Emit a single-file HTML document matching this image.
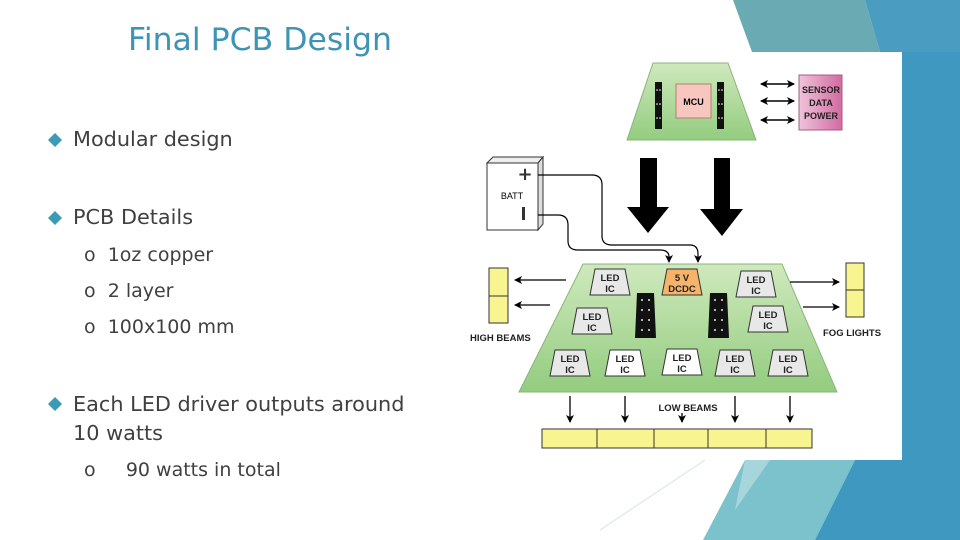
<!DOCTYPE html>
<html><head><meta charset="utf-8"><style>
html,body{margin:0;padding:0;background:#fff}
body{width:960px;height:540px;position:relative;overflow:hidden;font-family:"DejaVu Sans","Liberation Sans",sans-serif}
.t{position:absolute;color:#404040;white-space:nowrap}
</style></head><body>
<svg width="960" height="540" style="position:absolute;left:0;top:0" xmlns="http://www.w3.org/2000/svg">
<defs>
<linearGradient id="g" x1="0" y1="0" x2="0" y2="1"><stop offset="0" stop-color="#cfe9bd"/><stop offset="1" stop-color="#93cc7f"/></linearGradient>
<linearGradient id="m" x1="0" y1="0" x2="1" y2="0"><stop offset="0" stop-color="#efc3dc"/><stop offset="1" stop-color="#d36a9f"/></linearGradient>
<marker id="a" markerWidth="8" markerHeight="8" refX="7" refY="4" orient="auto" markerUnits="userSpaceOnUse"><path d="M0,0 L8,4 L0,8 L2,4 z" fill="#000"/></marker>
<marker id="b" markerWidth="8" markerHeight="8" refX="1" refY="4" orient="auto" markerUnits="userSpaceOnUse"><path d="M8,0 L0,4 L8,8 L6,4 z" fill="#000"/></marker>
</defs>
<!-- background -->
<polygon points="733,0 865,0 880,52 752,52" fill="#6aaab2"/>
<polygon points="865,0 960,0 960,52 880,52" fill="#4a9cc0"/>
<rect x="902" y="52" width="58" height="408" fill="#3f98c0"/>
<polygon points="745,460 855,460 815,540 703,540" fill="#7cc2cc"/>
<polygon points="745,460 770,460 735,510" fill="#a6d6dc"/>
<polygon points="855,460 960,460 960,540 815,540" fill="#3f98c0"/>
<line x1="600" y1="530" x2="705" y2="460" stroke="#d0e4e8" stroke-width="1"/>
<!-- MCU board -->
<polygon points="653,63 728,63 756,140 627,140" fill="url(#g)" stroke="#8ab47a"/>
<rect x="676" y="84" width="35" height="34" fill="#f7c7bf" stroke="#b08070"/>
<text x="693.5" y="105" font-size="9" font-weight="bold" text-anchor="middle" font-family="Liberation Sans,sans-serif">MCU</text>
<rect x="655" y="82" width="7" height="47" fill="#111"/>
<rect x="717" y="82" width="7" height="47" fill="#111"/>
<g fill="#fff"><circle cx="657" cy="90" r=".8"/><circle cx="660" cy="90" r=".8"/><circle cx="657" cy="104" r=".8"/><circle cx="660" cy="104" r=".8"/><circle cx="657" cy="118" r=".8"/><circle cx="660" cy="118" r=".8"/>
<circle cx="719" cy="90" r=".8"/><circle cx="722" cy="90" r=".8"/><circle cx="719" cy="104" r=".8"/><circle cx="722" cy="104" r=".8"/><circle cx="719" cy="118" r=".8"/><circle cx="722" cy="118" r=".8"/></g>
<g stroke="#000" stroke-width="1.5" marker-end="url(#a)" marker-start="url(#b)">
<line x1="761" y1="84" x2="794" y2="84"/><line x1="761" y1="101" x2="794" y2="101"/><line x1="761" y1="120" x2="794" y2="120"/></g>
<rect x="799" y="75" width="43" height="55" fill="url(#m)" stroke="#a06080"/>
<g font-size="9" font-weight="bold" text-anchor="middle" font-family="Liberation Sans,sans-serif" fill="#222">
<text x="821" y="93">SENSOR</text><text x="821" y="106">DATA</text><text x="821" y="119">POWER</text></g>
<!-- big arrows -->
<polygon points="640,158 657,158 657,207 669,207 648,233 627,207 640,207" fill="#000"/>
<polygon points="714,158 730,158 730,209 743,209 722,236 700,209 714,209" fill="#000"/>
<!-- battery -->
<polygon points="487,163 493,157 543,157 538,163" fill="#eee" stroke="#333"/>
<polygon points="538,163 543,157 543,224 538,230" fill="#ddd" stroke="#333"/>
<rect x="487" y="163" width="51" height="67" fill="#fff" stroke="#333"/>
<text x="525" y="180" font-size="18" font-weight="bold" text-anchor="middle" fill="#333">+</text>
<text x="512" y="199" font-size="9" text-anchor="middle" font-family="Liberation Sans,sans-serif">BATT</text>
<rect x="522" y="207" width="3" height="13" fill="#333"/>
<g fill="none" stroke="#000" stroke-width="1.2" marker-end="url(#a)">
<path d="M538,175 L592,175 Q602,175 602,185 L602,236 Q602,245 612,245 L690,245 Q698,245 698,254 L698,262"/>
<path d="M538,215 L558,215 Q568,215 568,225 L568,241 Q568,250 578,250 L660,250 Q669,250 669,257 L669,262"/>
</g>
<!-- main board -->
<polygon points="583,264 782,264 837,392 519,392" fill="url(#g)" stroke="#8ab47a"/>
<polygon points="637,293 654,293 656,338 635,338" fill="#111"/>
<polygon points="710,293 727,293 729,338 708,338" fill="#111"/>
<g fill="#fff" opacity=".9"><circle cx="642" cy="300" r="1"/><circle cx="649" cy="300" r="1"/><circle cx="642" cy="310" r="1"/><circle cx="649" cy="310" r="1"/><circle cx="642" cy="320" r="1"/><circle cx="649" cy="320" r="1"/><circle cx="642" cy="330" r="1"/><circle cx="649" cy="330" r="1"/>
<circle cx="715" cy="300" r="1"/><circle cx="722" cy="300" r="1"/><circle cx="715" cy="310" r="1"/><circle cx="722" cy="310" r="1"/><circle cx="715" cy="320" r="1"/><circle cx="722" cy="320" r="1"/><circle cx="715" cy="330" r="1"/><circle cx="722" cy="330" r="1"/></g>
<g font-size="9.5" font-weight="bold" text-anchor="middle" font-family="Liberation Sans,sans-serif" fill="#222" stroke="#333" stroke-width="1">
<g transform="translate(610,283)"><polygon points="-15,-14 15,-14 20,12 -20,12" fill="#e8e8e8"/><text x="0" y="-2" stroke="none">LED</text><text x="0" y="9" stroke="none">IC</text></g>
<g transform="translate(682,283)"><polygon points="-15,-14 15,-14 20,12 -20,12" fill="#f5b46a"/><text x="0" y="-2" stroke="none">5 V</text><text x="0" y="9" stroke="none">DCDC</text></g>
<g transform="translate(756,285)"><polygon points="-15,-14 15,-14 20,12 -20,12" fill="#e8e8e8"/><text x="0" y="-2" stroke="none">LED</text><text x="0" y="9" stroke="none">IC</text></g>
<g transform="translate(592,322)"><polygon points="-15,-14 15,-14 20,12 -20,12" fill="#e8e8e8"/><text x="0" y="-2" stroke="none">LED</text><text x="0" y="9" stroke="none">IC</text></g>
<g transform="translate(768,320)"><polygon points="-15,-14 15,-14 20,12 -20,12" fill="#e8e8e8"/><text x="0" y="-2" stroke="none">LED</text><text x="0" y="9" stroke="none">IC</text></g>
<g transform="translate(570,364)"><polygon points="-15,-14 15,-14 20,12 -20,12" fill="#e8e8e8"/><text x="0" y="-2" stroke="none">LED</text><text x="0" y="9" stroke="none">IC</text></g>
<g transform="translate(625,364)"><polygon points="-15,-14 15,-14 20,12 -20,12" fill="#fff"/><text x="0" y="-2" stroke="none">LED</text><text x="0" y="9" stroke="none">IC</text></g>
<g transform="translate(682,363)"><polygon points="-15,-14 15,-14 20,12 -20,12" fill="#fff"/><text x="0" y="-2" stroke="none">LED</text><text x="0" y="9" stroke="none">IC</text></g>
<g transform="translate(735,364)"><polygon points="-15,-14 15,-14 20,12 -20,12" fill="#e8e8e8"/><text x="0" y="-2" stroke="none">LED</text><text x="0" y="9" stroke="none">IC</text></g>
<g transform="translate(788,364)"><polygon points="-15,-14 15,-14 20,12 -20,12" fill="#e8e8e8"/><text x="0" y="-2" stroke="none">LED</text><text x="0" y="9" stroke="none">IC</text></g>
</g>
<!-- high beams / fog -->
<g fill="#f8f590" stroke="#333"><rect x="489" y="268" width="19" height="28"/><rect x="489" y="296" width="19" height="27"/>
<rect x="846" y="263" width="18" height="27"/><rect x="846" y="290" width="18" height="27"/></g>
<g stroke="#000" stroke-width="1.3"><line x1="566" y1="280" x2="515" y2="280" marker-end="url(#a)"/><line x1="550" y1="305" x2="515" y2="305" marker-end="url(#a)"/>
<line x1="790" y1="282" x2="839" y2="282" marker-end="url(#a)"/><line x1="803" y1="307" x2="839" y2="307" marker-end="url(#a)"/></g>
<g font-size="9.5" font-weight="bold" font-family="Liberation Sans,sans-serif" fill="#222">
<text x="470" y="341">HIGH BEAMS</text><text x="823" y="336">FOG LIGHTS</text><text x="688" y="411" text-anchor="middle">LOW BEAMS</text></g>
<g stroke="#000" stroke-width="1.3" marker-end="url(#a)"><line x1="570" y1="396" x2="570" y2="422"/><line x1="625" y1="396" x2="625" y2="422"/><line x1="682" y1="413" x2="682" y2="422"/><line x1="735" y1="396" x2="735" y2="422"/><line x1="790" y1="396" x2="790" y2="422"/></g>
<rect x="542" y="429" width="270" height="19" fill="#f8f590" stroke="#333"/>
<g stroke="#333"><line x1="597" y1="429" x2="597" y2="448"/><line x1="654" y1="429" x2="654" y2="448"/><line x1="708" y1="429" x2="708" y2="448"/><line x1="766" y1="429" x2="766" y2="448"/></g>
<!-- bullets -->
<g fill="#3a9ab8"><polygon points="55,133 62,140 55,147 48,140"/><polygon points="55,211 62,218 55,225 48,218"/><polygon points="55,397 62,404 55,411 48,404"/></g>
</svg>
<div class="t" style="left:128px;top:22px;font-size:31.5px;color:#3d94b4">Final PCB Design</div>
<div class="t" style="left:73px;top:127px;font-size:20.8px">Modular design</div>
<div class="t" style="left:73px;top:205px;font-size:20.8px">PCB Details</div>
<div class="t" style="left:84px;top:244px;font-size:19px">o&nbsp;&nbsp;1oz copper</div>
<div class="t" style="left:84px;top:280px;font-size:19px">o&nbsp;&nbsp;2 layer</div>
<div class="t" style="left:84px;top:316px;font-size:19px">o&nbsp;&nbsp;100x100 mm</div>
<div class="t" style="left:73px;top:390px;font-size:20.8px;line-height:29px">Each LED driver outputs around<br>10 watts</div>
<div class="t" style="left:84px;top:459px;font-size:19px">o&nbsp;&nbsp;&nbsp;&nbsp; 90 watts in total</div>
</body></html>
